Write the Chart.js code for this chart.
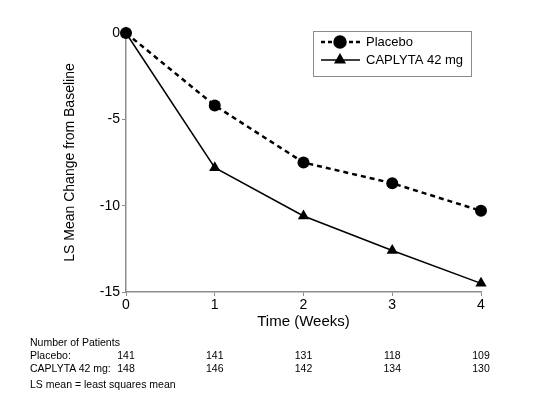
<!DOCTYPE html>
<html>
<head>
<meta charset="utf-8">
<script src="https://cdn.jsdelivr.net/npm/chart.js@4"></script>
<style>
  html, body { margin:0; padding:0; background:#fff; }
  #wrap { position:relative; width:544px; height:399px; font-family:"Liberation Sans", Arial, sans-serif; }
  canvas { position:absolute; left:0; top:0; }
  .t { position:absolute; font-size:10.5px; color:#000; white-space:nowrap; line-height:12px; }
  .n { transform:translateX(-50%); }
</style>
</head>
<body>
<div id="wrap">
  <canvas id="c" width="544" height="399"></canvas>
</div>
<script>
/* ---------------------------
   Data
   --------------------------- */
const weeks = [0, 1, 2, 3, 4];
const placebo = [0, -4.2, -7.5, -8.7, -10.3];
const caplyta = [0, -7.8, -10.6, -12.6, -14.5];
const seriesNames = ['Placebo', 'CAPLYTA 42 mg'];
const placeboN = [141, 141, 131, 118, 109];
const caplytaN = [148, 146, 142, 134, 130];
const yTicks = [0, -5, -10, -15];

const FONT = '"Liberation Sans", Arial, sans-serif';
const axisGrey = '#8c8c8c';

/* legend drawn inside a grey box, top right */
const boxLegend = {
  id: 'boxLegend',
  afterDraw(chart) {
    const ctx = chart.ctx;
    const x0 = 313, y0 = 31, w = 158, h = 45;
    ctx.save();
    ctx.strokeStyle = axisGrey;
    ctx.lineWidth = 1;
    ctx.strokeRect(x0 + 0.5, y0 + 0.5, w, h);
    const rows = [
      { y: 42, dash: [4, 3], lw: 2.5, pt: 'circle' },
      { y: 60, dash: [], lw: 1.5, pt: 'triangle' }
    ];
    rows.forEach((r, i) => {
      ctx.strokeStyle = '#000';
      ctx.lineWidth = r.lw;
      ctx.setLineDash(r.dash);
      ctx.beginPath();
      ctx.moveTo(321, r.y);
      ctx.lineTo(360, r.y);
      ctx.stroke();
      ctx.setLineDash([]);
      Chart.helpers.drawPoint(ctx, { pointStyle: r.pt, radius: 5.5, borderWidth: 1, rotation: 0 }, 340, r.y);
      ctx.fillStyle = '#000';
      ctx.fill();
      ctx.font = '13px ' + FONT;
      ctx.textBaseline = 'middle';
      ctx.textAlign = 'left';
      ctx.fillText(seriesNames[i], 366, r.y);
    });
    ctx.restore();
  }
};

const ctx = document.getElementById('c').getContext('2d');
const chart = new Chart(ctx, {
  type: 'line',
  data: {
    datasets: [
      {
        label: seriesNames[0],
        data: weeks.map((w, i) => ({ x: w, y: placebo[i] })),
        borderColor: '#000',
        backgroundColor: '#000',
        borderWidth: 2.5,
        borderDash: [5, 4],
        pointStyle: 'circle',
        pointRadius: 6,
        pointBorderWidth: 0,
        clip: false
      },
      {
        label: seriesNames[1],
        data: weeks.map((w, i) => ({ x: w, y: caplyta[i] })),
        borderColor: '#000',
        backgroundColor: '#000',
        borderWidth: 1.5,
        pointStyle: 'triangle',
        pointRadius: 6.5,
        pointBorderWidth: 0,
        clip: false
      }
    ]
  },
  options: {
    responsive: false,
    animation: false,
    layout: { padding: { left: 60, top: 33, right: 63, bottom: 68 } },
    plugins: { legend: { display: false }, tooltip: { enabled: false } },
    scales: {
      x: {
        type: 'linear',
        min: 0, max: 4,
        afterFit: s => { s.height = 39; },
        grid: { drawOnChartArea: false, drawTicks: true, tickLength: 4, color: axisGrey },
        border: { display: true, color: axisGrey, width: 1.5 },
        ticks: { stepSize: 1, color: '#000', padding: 1, font: { family: FONT, size: 14 } },
        title: { display: true, text: 'Time (Weeks)', color: '#000', padding: 0, font: { family: FONT, size: 15 } }
      },
      y: {
        min: -15, max: 0,
        afterFit: s => { s.width = 66; },
        afterBuildTicks: s => { s.ticks = yTicks.map(v => ({ value: v })); },
        grid: { drawOnChartArea: false, drawTicks: true, tickLength: 4, color: axisGrey },
        border: { display: true, color: axisGrey, width: 1.5 },
        ticks: { color: '#000', padding: 2, font: { family: FONT, size: 14 } },
        title: { display: true, text: 'LS Mean Change from Baseline', color: '#000', padding: { top: 2, bottom: 0 }, font: { family: FONT, size: 14 } }
      }
    }
  },
  plugins: [boxLegend]
});

/* patient counts table under the plot, columns follow the x scale */
const wrap = document.getElementById('wrap');
function addText(txt, x, y, cls) {
  const d = document.createElement('div');
  d.className = 't' + (cls ? ' ' + cls : '');
  d.style.left = x + 'px';
  d.style.top = y + 'px';
  d.textContent = txt;
  wrap.appendChild(d);
}
const xs = chart.scales.x;
addText('Number of Patients', 30, 336);
addText('Placebo:', 30, 349);
addText('CAPLYTA 42 mg:', 30, 362);
addText('LS mean = least squares mean', 30, 378);
weeks.forEach((w, i) => {
  const px = xs.getPixelForValue(w);
  addText(String(placeboN[i]), px, 349, 'n');
  addText(String(caplytaN[i]), px, 362, 'n');
});
</script>
</body>
</html>
